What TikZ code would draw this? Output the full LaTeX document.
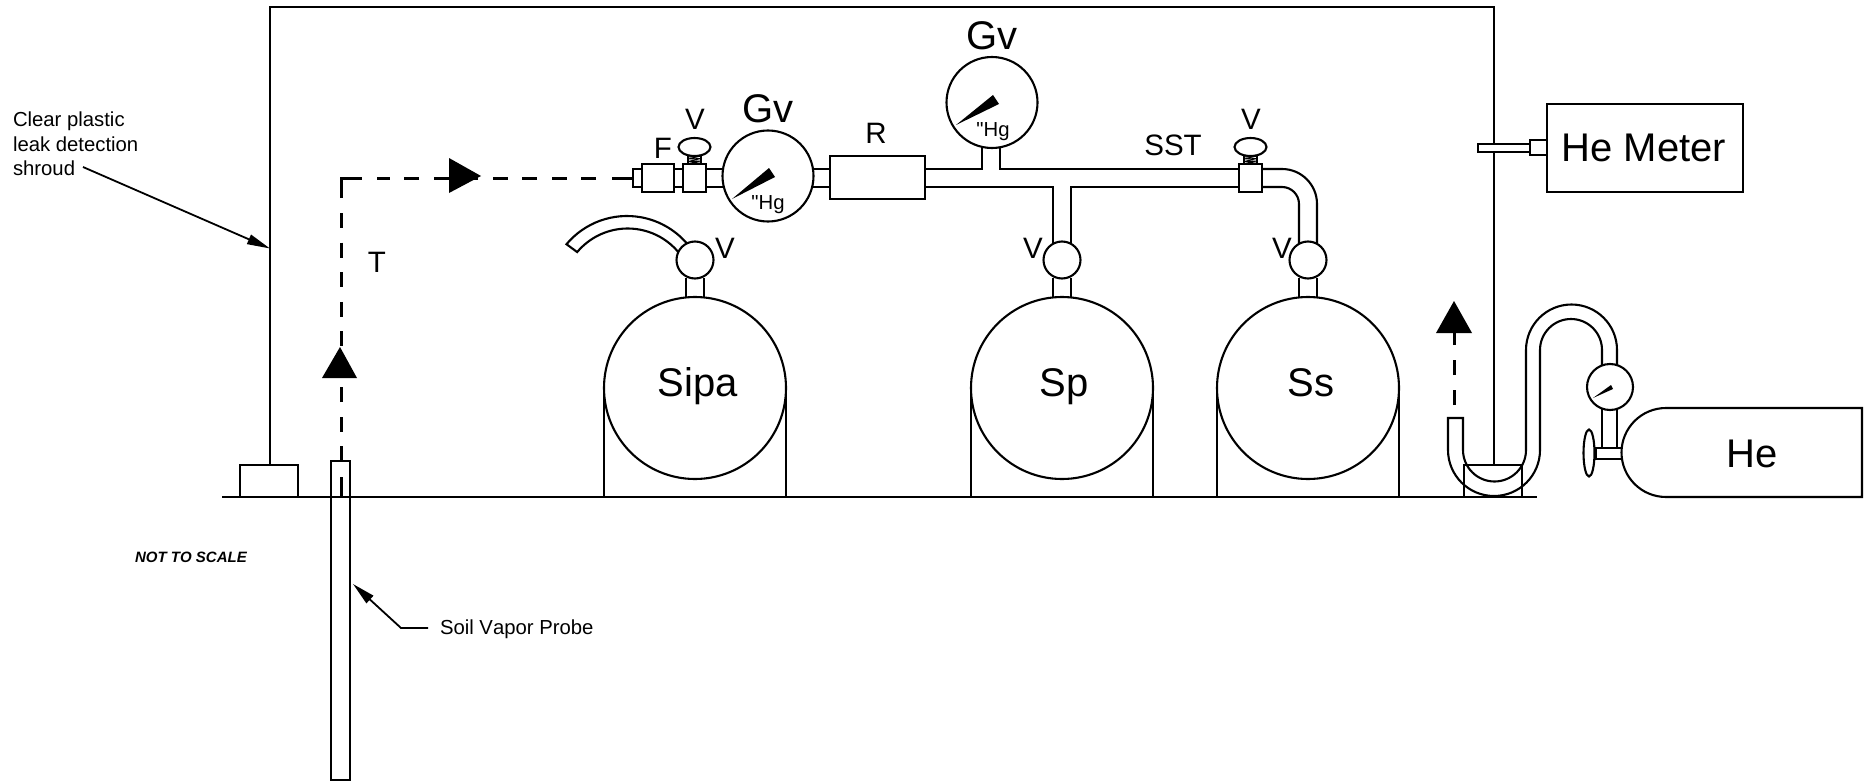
\documentclass[tikz,border=0pt]{standalone}
\usepackage{fontspec}
\setmainfont{Liberation Sans}[Kerning=Off]
\newfontfamily\hgfont{Liberation Sans}[Kerning=Off]
\usetikzlibrary{arrows.meta}
\tikzset{
  ln/.style={line width=2.1pt,black},
  box/.style={ln,fill=white},
  flow/.style={line width=3pt,dash pattern=on 15pt off 14.5pt},
  flowsolid/.style={line width=3pt},
  tri/.style={fill=black,draw=none},
  leader/.style={line width=1.8pt,-{Triangle[length=23pt,width=10pt]}},
  tx/.style={inner sep=0pt,outer sep=0pt,anchor=base},
  lab/.style={tx,font=\fontsize{29.5}{32}\selectfont},
  big/.style={tx,font=\fontsize{40}{44}\selectfont},
  small/.style={tx,font=\fontsize{20.3}{24.5}\selectfont},
}
\newcommand{\valvetop}[2]{% box x-left, stem, knob
  \draw[ln,fill=white] (#1+5,155) rectangle (#1+18,164);
  \draw[line width=0.9pt] (#1+5,157) -- (#1+18,156) -- (#1+5,159) -- (#1+18,158.5) -- (#1+5,161.5) -- (#1+18,161) -- (#1+5,163.5) -- (#1+18,163);
  \draw[box] (#1+11.5,147) ellipse[x radius=16,y radius=9];
  \draw[box] (#1,164) rectangle (#1+23,192);}
\begin{document}
\begin{tikzpicture}[x=1pt,y=-1pt]
\useasboundingbox (0,0) rectangle (1871,781);
% shroud and ground
\draw[ln] (270,465) -- (270,7) -- (1494,7) -- (1494,465);
\draw[ln] (222,497) -- (1537,497);
\draw[ln] (240,497) -- (240,465) -- (298,465) -- (298,497);
\draw[ln] (1464,497) -- (1464,465) -- (1522,465) -- (1522,497);
% probe
\draw[ln] (331,780) rectangle (350,461);
% dashed flow
\draw[flowsolid] (341,497) -- (341,477);
\draw[flow] (341,461) -- (341,347);
\draw[flow,dash pattern=on 15pt off 14.6pt] (341,213) -- (341,347);
\draw[flowsolid] (341,198) -- (341,178) -- (362,178);
\draw[flow] (596,178) -- (377,178);
\draw[flowsolid] (612,178) -- (632,178);
\fill[tri] (449,158) -- (481,176) -- (449,193) -- cycle;
\fill[tri] (340,347) -- (357,378) -- (322,378) -- cycle;
\draw[flow,dash pattern=on 15pt off 15pt] (1454,405) -- (1454,333);
\fill[tri] (1454,301) -- (1472,333) -- (1436,333) -- cycle;
% tanks
\foreach \c in {695,1062,1308}{
  \draw[ln] (\c-91,497) -- (\c-91,388) (\c+91,388) -- (\c+91,497);
  \draw[ln] (\c,388) circle[radius=91];
  \draw[ln] (\c-9,278) -- (\c-9,297.5) (\c+9,278) -- (\c+9,297.5);
}
% main pipe
\draw[ln] (641,169) -- (683,169) (641,187) -- (683,187);
\draw[ln] (706,169) -- (723,169) (706,187) -- (723,187);
\draw[ln] (813,169) -- (830,169) (813,187) -- (830,187);
\draw[ln] (925,169) -- (982,169) -- (982,147);
\draw[ln] (1000,147) -- (1000,169) -- (1239,169);
\draw[ln] (925,187) -- (1053,187) -- (1053,243);
\draw[ln] (1071,243) -- (1071,187) -- (1239,187);
\draw[ln] (1262,169) -- (1282,169) arc[start angle=-90,end angle=0,radius=35] -- (1317,243);
\draw[ln] (1262,187) -- (1282,187) arc[start angle=-90,end angle=0,radius=17] -- (1299,243);
% inlet fittings
\draw[box] (633,169) rectangle (642,187);
\draw[box] (642,164) rectangle (674,192);
\valvetop{683}{}
\valvetop{1239}{}
% gauges
\draw[box] (768,176) circle[radius=45.5];
\fill (732,199) -- (769,168) -- (775,177) -- cycle;
\draw[box] (992,102.5) circle[radius=45.5];
\fill (956,125) -- (993,95) -- (999,104) -- cycle;
\draw[box] (830,156) rectangle (925,199);
% sampling hose on Sipa
\draw[ln] (627,295) ++(-140:79) arc[start angle=-140,end angle=-38,radius=79] -- ++(-9.5,7.5) arc[start angle=-38,end angle=-140,radius=66] -- cycle;
% ball valves
\foreach \c in {695,1062,1308}{ \draw[box] (\c,260) circle[radius=18.5]; }
% helium hose
\draw[ln] (1448,450) -- (1448,418) -- (1463,418) -- (1463,450) arc[start angle=180,end angle=0,radius=31.5] -- (1526,350) arc[start angle=180,end angle=360,radius=45.5] -- (1617,366);
\draw[ln] (1448,450) arc[start angle=180,end angle=0,radius=46] -- (1540,350) arc[start angle=180,end angle=360,radius=31] -- (1602,366);
\draw[ln] (1464,465) -- (1522,465);
\draw[ln] (1602,408) -- (1602,448) (1617,408) -- (1617,448);
\draw[ln] (1596,448) rectangle (1622,459);
\draw[box] (1589,453) ellipse[x radius=5.5,y radius=23.5];
\draw[box] (1610,387) circle[radius=23];
\fill (1593,398) -- (1611,385) -- (1613,389) -- cycle;
\draw[box] (1666,408) -- (1862,408) -- (1862,497) -- (1666,497) arc[start angle=90,end angle=270,radius=44.5] -- cycle;
% He meter
\draw[box] (1478,144) rectangle (1530,152);
\draw[box] (1530,140) rectangle (1547,155);
\draw[box] (1547,104) rectangle (1743,192);
% labels
\node[lab] (v1) at (695,129.5) {V};
\node[lab] (v2) at (1251,129.5) {V};
\node[lab] (v3) at (725,258) {V};
\node[lab] (v4) at (1033,258) {V};
\node[lab] (v5) at (1282,258) {V};
\node[lab] (f) at (663,158) {F};
\node[lab] (r) at (876,143.5) {R};
\node[lab] (sst) at (1173,155) {SST};
\node[lab] (t) at (377,272) {T};
\node[big] (g1) at (768,122.5) {Gv};
\node[big] (g2) at (992,49.5) {Gv};
\node[small] (h1) at (768,209) {\hgfont"Hg};
\node[small] (h2) at (993,136) {\hgfont"Hg};
\node[big] (sipa) at (698,396) {Sipa};
\node[big] (sp) at (1064,396) {Sp};
\node[big] (ss) at (1311,396) {Ss};
\node[big] (he) at (1752,467) {He};
\node[big] (hem) at (1644,161) {He Meter};
\node[small,anchor=north west,align=left] (shr) at (13,112) {Clear plastic\\leak detection\\shroud};
\node[small,anchor=base west] (soil) at (440,634) {Soil Vapor Probe};
\node[tx,font=\fontsize{15}{18}\selectfont\bfseries\itshape] (nts) at (191,562.5) {NOT TO SCALE};
% leaders
\coordinate (shrA) at (83,167);
\coordinate (shrB) at (270,248.5);
\draw[leader] (shrA) -- (shrB);
\coordinate (soilA) at (428,628);
\coordinate (soilK) at (401,628);
\coordinate (soilB) at (353,584);
\draw[leader] (soilA) -- (soilK) -- (soilB);
\end{tikzpicture}
\end{document}
